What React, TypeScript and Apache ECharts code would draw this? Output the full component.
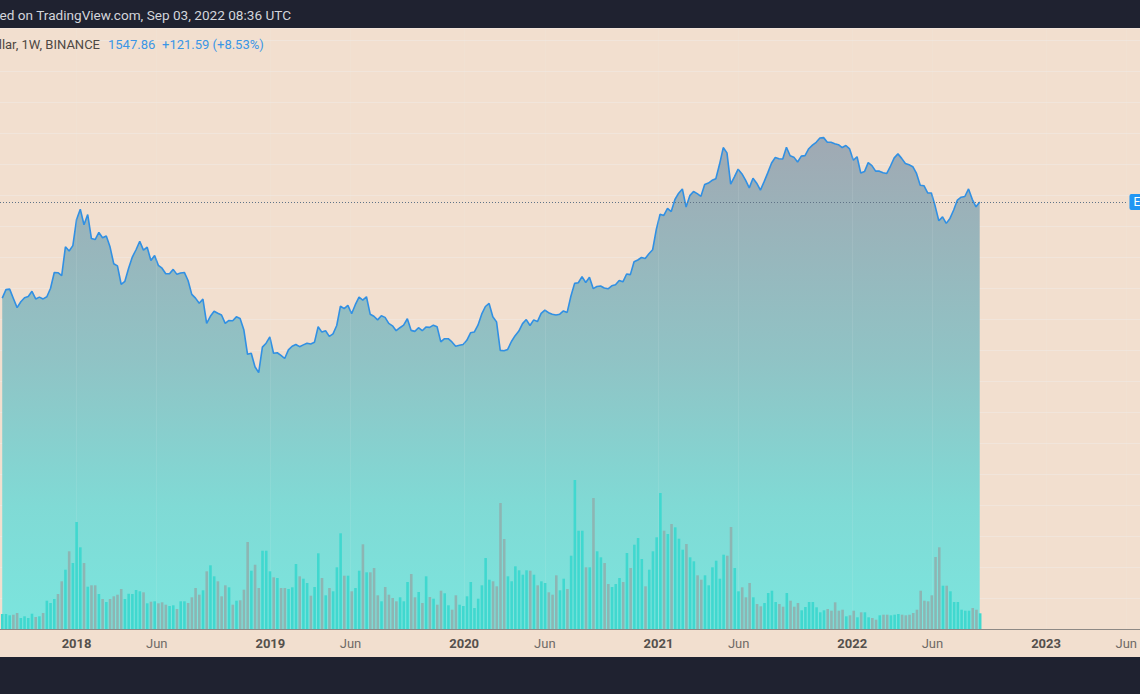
import React, { useEffect, useRef } from "react";
import * as echarts from "echarts";

// ---------------- data (weekly bars, Binance ETH) ----------------
const FIRST_WEEK = "2017-08-14";

const close2017 = [300, 347, 350, 298, 255, 282, 302, 308, 337, 296, 305, 296, 307, 355, 465, 463, 440, 720, 670, 735];
const close2018 = [1150, 1370, 1050, 1250, 830, 815, 920, 840, 865, 720, 540, 520, 380, 400, 500, 605, 685, 790, 680, 715, 570, 620, 525, 500, 455, 455, 490, 450, 460, 465, 405, 320, 300, 275, 295, 195, 220, 240, 232, 225, 195, 205, 204, 218, 212, 175, 115, 117, 93, 84, 130, 139, 155];
const close2019 = [117, 118, 113, 107, 124, 132, 136, 131, 135, 139, 137, 141, 184, 168, 172, 156, 163, 188, 262, 251, 265, 230, 268, 305, 290, 307, 228, 220, 207, 222, 216, 195, 187, 172, 181, 189, 211, 173, 170, 181, 172, 183, 182, 189, 184, 142, 150, 150, 142, 132, 134, 136];
const close2020 = [146, 166, 168, 189, 228, 260, 274, 218, 200, 123, 122, 125, 143, 158, 171, 194, 208, 188, 207, 201, 231, 244, 234, 228, 225, 228, 241, 235, 310, 386, 390, 433, 392, 428, 353, 366, 369, 357, 352, 370, 377, 406, 396, 453, 448, 559, 575, 600, 590, 640, 685, 975];
const close2021 = [1255, 1230, 1390, 1315, 1615, 1800, 1935, 1420, 1725, 1850, 1785, 1705, 2085, 2140, 2240, 2305, 2945, 3920, 3580, 2100, 2380, 2710, 2510, 2245, 1970, 2325, 2135, 1895, 2190, 2555, 3010, 3310, 3240, 3225, 3940, 3410, 3330, 3065, 3390, 3415, 3845, 4085, 4290, 4610, 4645, 4300, 4290, 4190, 4120, 3920, 4060, 3830];
const close2022 = [3155, 3350, 2540, 2600, 3030, 2880, 2620, 2620, 2550, 2520, 2860, 3290, 3520, 3260, 2990, 2920, 2830, 2520, 2060, 2045, 1810, 1805, 1450, 1125, 1200, 1075, 1170, 1350, 1600, 1680, 1700, 1935, 1620, 1425, 1547.86];

const vol2017 = [15, 15, 13.7, 14.3, 16, 11, 12.7, 11, 15.3, 12, 12.7, 16, 28.3, 26, 30, 35, 47.7, 59.3, 77.7, 66];
const vol2018 = [107, 81.7, 66, 42.3, 43.7, 43.7, 35, 30, 27, 30, 32.7, 34.3, 40, 30, 35.3, 35, 39, 37.7, 36.7, 25.7, 27.3, 27.7, 25.7, 26.7, 24.3, 23, 23.7, 20, 27.7, 27.7, 26, 31.7, 41, 34.3, 38.7, 57.7, 63.7, 52.7, 47.7, 32.7, 43.7, 41.7, 24.3, 28.3, 28.7, 39.3, 87, 58.3, 64.3, 41, 78.3, 78.3, 57.7];
const vol2019 = [51.7, 51, 41, 41, 40, 41.7, 65, 52.7, 50.3, 46, 33.3, 42, 75.7, 51, 33.7, 41, 37.7, 61.7, 95.7, 53.3, 53.3, 37.7, 41, 58.3, 84.7, 56.7, 56.7, 61, 33.7, 27.7, 42, 34.3, 31, 27.7, 31.7, 27.7, 47, 55, 31.7, 37, 26, 52.7, 32, 30.3, 24.3, 38.3, 35.7, 23.7, 19.3, 33.7, 24.3, 23];
const vol2020 = [32.7, 47, 21, 30.3, 43.7, 71, 49.3, 47.7, 42.7, 126, 90, 52.7, 47.7, 62.7, 58.7, 54.3, 58.7, 58.3, 54.3, 43.7, 47.7, 46, 36.7, 34.3, 53.7, 38.7, 50.3, 40, 73.3, 149, 98.3, 98.3, 61.7, 61.7, 131, 77.7, 71.7, 66, 45, 42, 45, 51, 47, 76, 61, 84.3, 91, 70, 42.7, 59.3, 77.7, 91.7];
const vol2021 = [136, 98.3, 95, 105, 101.7, 90.3, 79.3, 85, 71.7, 67.7, 53.7, 49.3, 53.7, 43.7, 61.7, 68.3, 50.3, 74.3, 73.3, 102, 61, 37.7, 41.7, 31.7, 46, 31.7, 25, 22.7, 26, 36, 38.3, 27, 25, 22.3, 36, 28.3, 22.3, 26, 18.7, 22, 27, 27, 21.7, 16.7, 18.7, 20, 18.3, 26.7, 18.3, 19.3, 12.7, 13.7];
const vol2022 = [18.3, 11.7, 16.7, 16.7, 11.7, 11, 9.3, 13.7, 14.3, 14.3, 13.7, 14.3, 15, 14.3, 13.7, 14.3, 16, 19.3, 38.3, 28.3, 27.7, 33.7, 72, 81.7, 43.3, 43.3, 37.7, 27, 27, 19.3, 18.3, 18.3, 21, 19.3, 15.7];

const tickDates = ["2018-01-01", "2018-06-01", "2019-01-01", "2019-06-01", "2020-01-01", "2020-06-01", "2021-01-01", "2021-06-01", "2022-01-01", "2022-06-01", "2023-01-01", "2023-06-01"];
const tickLabels = ["2018", "Jun", "2019", "Jun", "2020", "Jun", "2021", "Jun", "2022", "Jun", "2023", "Jun"];

const publishedText = "Published on TradingView.com, Sep 03, 2022 08:36 UTC";
const symbolText = "Ethereum / U.S. Dollar, 1W, BINANCE";
const lastPrice = 1547.86;
const priceChange = 121.59;
const priceChangePct = 8.53;
const scaleLabel = "ETHUSD";

// ---------------- layout & style ----------------
const W = 1140;
const H = 694;
const HEADER_H = 28;
const AXIS_Y = 629;
const FOOTER_Y = 657;
const X_MIN = Date.UTC(2017, 7, 9, 19);
const X_MAX = Date.UTC(2023, 5, 3, 7);
const PRICE_MIN = 1.0567;
const PRICE_MAX = 30186;
const VOL_TOP = 329;
const VOL_MAX = 300;
const FONT = "Roboto, 'Noto Sans', sans-serif";

const BG = "#f2dfcf";
const DARK = "#1f2230";
const LINE = "#3190e3";
const UP = "#40d8cf";
const DOWN = "#8db5b3";
const GRIDC = "rgba(240,243,250,0.28)";

export default function App() {
  const ref = useRef<HTMLDivElement>(null);

  useEffect(() => {
    document.body.style.margin = "0";
    const chart = echarts.init(ref.current as HTMLDivElement, null, { renderer: "svg" });

    const closes = [...close2017, ...close2018, ...close2019, ...close2020, ...close2021, ...close2022];
    const volumes = [...vol2017, ...vol2018, ...vol2019, ...vol2020, ...vol2021, ...vol2022];
    const t0 = Date.parse(FIRST_WEEK);
    const weeks = closes.map((_, i) => t0 + i * 7 * 86400000);
    const tickTs = tickDates.map((d) => Date.parse(d));

    const priceData = weeks.map((t, i) => [t, closes[i]]);
    const volData = weeks.map((t, i) => ({
      value: [t, volumes[i]],
      itemStyle: { color: i === 0 || closes[i] >= closes[i - 1] ? UP : DOWN },
    }));

    const labelFor = (v: number) => {
      const k = tickTs.findIndex((t) => Math.abs(t - v) < 86400000);
      if (k < 0) return "";
      const s = tickLabels[k];
      return /^\d+$/.test(s) ? `{yr|${s}}` : `{mo|${s}}`;
    };

    const option: any = {
      animation: false,
      backgroundColor: BG,
      textStyle: { fontFamily: FONT },
      grid: [
        { left: 0, right: 12, top: HEADER_H, bottom: H - AXIS_Y },
        { left: 0, right: 12, top: VOL_TOP, bottom: H - AXIS_Y },
        { left: 0, right: 0, top: HEADER_H, bottom: H - AXIS_Y },
      ],
      xAxis: [
        {
          type: "value",
          gridIndex: 0,
          min: X_MIN,
          max: X_MAX,
          axisLine: { show: false },
          axisTick: { show: false },
          splitLine: { show: false },
          axisLabel: {
            customValues: tickTs,
            formatter: labelFor,
            margin: 8,
            rich: {
              yr: { fontFamily: FONT, fontSize: 13, fontWeight: "bold", color: "#55504c" },
              mo: { fontFamily: FONT, fontSize: 13, color: "#6f6a66" },
            },
          },
        },
        { type: "value", gridIndex: 1, min: X_MIN, max: X_MAX, show: false },
        {
          type: "value",
          gridIndex: 2,
          min: 0,
          max: 1,
          axisLine: { show: true, lineStyle: { color: "#8e8985", width: 1 } },
          axisTick: { show: false },
          axisLabel: { show: false },
          splitLine: { show: false },
        },
      ],
      yAxis: [
        { type: "log", gridIndex: 0, min: PRICE_MIN, max: PRICE_MAX, show: false },
        { type: "value", gridIndex: 1, min: 0, max: VOL_MAX, show: false },
        {
          type: "value",
          gridIndex: 2,
          min: 0,
          max: AXIS_Y - HEADER_H,
          interval: 31,
          axisLine: { show: false },
          axisTick: { show: false },
          axisLabel: { show: false },
          splitLine: { show: true, lineStyle: { color: GRIDC, width: 1 } },
        },
      ],
      graphic: [
        { type: "rect", left: 0, top: 0, shape: { width: W, height: HEADER_H }, style: { fill: DARK }, z: 100 },
        { type: "rect", left: 0, top: FOOTER_Y, shape: { width: W, height: H - FOOTER_Y }, style: { fill: DARK }, z: 100 },
        {
          type: "text", x: 291, y: 15, z: 101,
          style: { text: publishedText, fill: "#d3d5db", font: `13.6px ${FONT}`, textAlign: "right", align: "right", textVerticalAlign: "middle", verticalAlign: "middle" },
        },
        {
          type: "text", x: 100, y: 44, z: 101,
          style: { text: symbolText, fill: "#4d4844", font: `13px ${FONT}`, textAlign: "right", align: "right", textVerticalAlign: "middle", verticalAlign: "middle" },
        },
        {
          type: "text", x: 108, y: 44, z: 101,
          style: { text: lastPrice.toFixed(2), fill: "#3a96e6", font: `13px ${FONT}`, textVerticalAlign: "middle", verticalAlign: "middle" },
        },
        {
          type: "text", x: 162, y: 44, z: 101,
          style: { text: `+${priceChange.toFixed(2)} (+${priceChangePct.toFixed(2)}%)`, fill: "#3a96e6", font: `13px ${FONT}`, textVerticalAlign: "middle", verticalAlign: "middle" },
        },
      ],
      series: [
        {
          type: "line",
          z: 2,
          xAxisIndex: 0,
          yAxisIndex: 0,
          data: priceData,
          showSymbol: false,
          symbol: "none",
          lineStyle: { color: LINE, width: 1.6 },
          areaStyle: {
            origin: "start",
            opacity: 1,
            color: new echarts.graphic.LinearGradient(0, 0, 0, 1, [
              { offset: 0, color: "#a0a9b3" },
              { offset: 0.45, color: "#90c3c5" },
              { offset: 0.75, color: "#80dad5" },
              { offset: 1, color: "#7be5de" },
            ]),
          },
          markLine: {
            silent: true,
            symbol: ["none", "none"],
            data: [
              ...tickTs.map((t) => ({
                xAxis: t,
                lineStyle: { color: "rgba(240,243,250,0.1)", type: "solid", width: 1 },
                label: { show: false },
              })),
              {
                yAxis: lastPrice,
                lineStyle: { color: "#5f7387", type: [1, 2], width: 1 },
                label: {
                  show: true,
                  position: "end",
                  distance: 2,
                  formatter: `${scaleLabel}  ${lastPrice.toFixed(2)}`,
                  color: "#ffffff",
                  backgroundColor: "#2196f3",
                  padding: [2, 4, 2, 4],
                  borderRadius: 2,
                  fontSize: 12,
                  fontFamily: FONT,
                },
              },
            ],
          },
        },
        {
          type: "bar",
          z: 6,
          xAxisIndex: 1,
          yAxisIndex: 1,
          barWidth: 2.6,
          data: volData,
        },
      ],
    };

    chart.setOption(option);
    return () => chart.dispose();
  }, []);

  return <div ref={ref} style={{ width: W, height: H }} />;
}
